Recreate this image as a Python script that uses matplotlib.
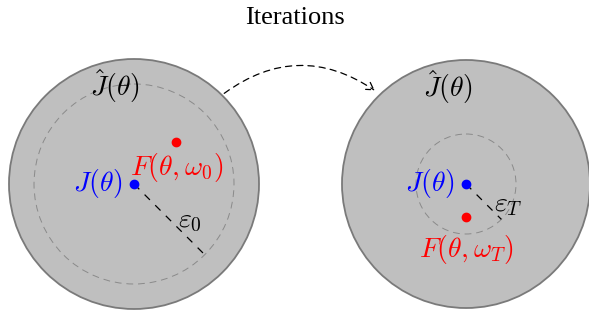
import matplotlib
matplotlib.use("Agg")
import matplotlib.pyplot as plt
from matplotlib.patches import Circle, FancyArrowPatch
import numpy as np

plt.rcParams['mathtext.fontset'] = 'cm'

# Data (pixel-space scene description)
panel_centers_x = [134, 466]
panel_centers_y = [184, 184]
outer_radii = [125, 124]
inner_radii = [100, 50]
red_x = [176, 466]
red_y = [142, 217]
eps_labels = [r'$\varepsilon_0$', r'$\varepsilon_T$']
f_labels = [r'$F(\theta,\omega_0)$', r'$F(\theta,\omega_T)$']
f_label_x = [177, 466]
f_label_y = [168, 250]
jhat_x = [115, 448]
jhat_y = [86, 87]
eps_x = [190, 508]
eps_y = [220, 204]
title = "Iterations"

fig = plt.figure(figsize=(5.89, 3.10), dpi=100)
ax = fig.add_axes([0, 0, 1, 1])
ax.set_xlim(0, 589)
ax.set_ylim(310, 0)
ax.set_aspect('equal')
ax.axis('off')

for i in range(2):
    cx, cy = panel_centers_x[i], panel_centers_y[i]
    ax.add_patch(Circle((cx, cy), outer_radii[i], facecolor='#bfbfbf',
                        edgecolor='#7a7a7a', linewidth=1.3, zorder=1))
    ax.add_patch(Circle((cx, cy), inner_radii[i], facecolor='none',
                        edgecolor='#8a8a8a', linewidth=0.7,
                        linestyle=(0, (7, 5)), zorder=2))
    ang = np.deg2rad(45)
    ax.plot([cx, cx + inner_radii[i] * np.cos(ang)],
            [cy, cy + inner_radii[i] * np.sin(ang)],
            color='black', linewidth=0.9, linestyle=(0, (6, 6)), zorder=3)
    ax.plot([cx], [cy], 'o', color='blue', markersize=6, zorder=4)
    ax.plot([red_x[i]], [red_y[i]], 'o', color='red', markersize=6, zorder=4)
    ax.text(cx - 12, cy, r'$J(\theta)$', color='blue', fontsize=20,
            ha='right', va='center', zorder=5)
    ax.text(f_label_x[i], f_label_y[i], f_labels[i], color='red', fontsize=20,
            ha='center', va='center', zorder=5)
    ax.text(jhat_x[i], jhat_y[i], r'$\hat{J}(\theta)$', color='black',
            fontsize=20, ha='center', va='center', zorder=5)
    ax.text(eps_x[i], eps_y[i], eps_labels[i], color='black', fontsize=20,
            ha='center', va='center', zorder=5)

arrow = FancyArrowPatch((222, 95), (377, 92), connectionstyle='arc3,rad=-0.36',
                        arrowstyle='->,head_length=5,head_width=3',
                        color='black', linewidth=0.9, linestyle=(0, (5, 4)),
                        zorder=6)
ax.add_patch(arrow)

ax.text(294.5, 18, title, fontsize=19, family='Liberation Serif',
        ha='center', va='center')

fig.savefig('out.png', dpi=100)
